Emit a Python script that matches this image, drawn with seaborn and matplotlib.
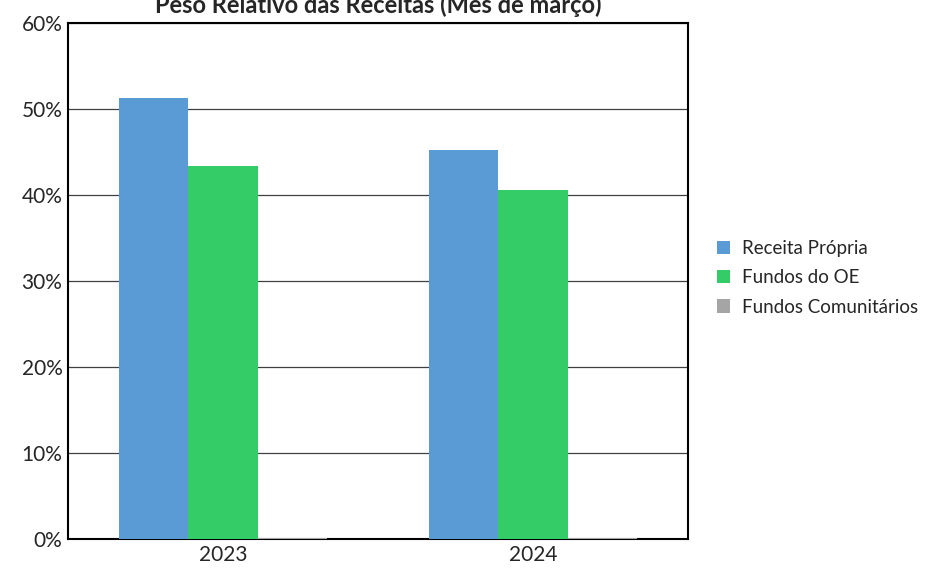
import pandas as pd
import numpy as np
import matplotlib.pyplot as plt
import seaborn as sns
from matplotlib.ticker import PercentFormatter

anos = ["2023", "2024"]
series = ["Receita Própria", "Fundos do OE", "Fundos Comunitários"]
receita_propria = [51.3, 45.2]
fundos_oe = [43.4, 40.6]
fundos_comunitarios = [0.15, 0.15]
cores = ["#5b9bd5", "#33cc66", "#a5a5a5"]

df = pd.DataFrame({
    "Ano": anos * 3,
    "Serie": [series[0]] * 2 + [series[1]] * 2 + [series[2]] * 2,
    "Valor": receita_propria + fundos_oe + fundos_comunitarios,
})

sns.set_style("white")
plt.rcParams["font.family"] = ["Lato", "DejaVu Sans"]

fig = plt.figure(figsize=(9.26, 5.8), dpi=100)
ax = fig.add_axes([68 / 926, 41 / 580, 620 / 926, 516 / 580])

sns.barplot(data=df, x="Ano", y="Valor", hue="Serie", palette=cores,
            width=0.67, saturation=1, linewidth=0, ax=ax, zorder=3)

ax.set_ylim(0, 60)
ax.set_yticks(np.arange(0, 61, 10))
ax.yaxis.set_major_formatter(PercentFormatter(decimals=0))
ax.grid(axis="y", color="#404040", linewidth=0.9, zorder=0)
ax.set_axisbelow(True)
ax.set_xlabel("")
ax.set_ylabel("")
ax.tick_params(axis="both", labelsize=15, length=0, pad=4)
for s in ax.spines.values():
    s.set_color("black")
    s.set_linewidth(1.5)

ax.set_title("Peso Relativo das Receitas (Mês de março)", fontsize=17,
             fontweight="bold", pad=7)

ax.legend(loc="center left", bbox_to_anchor=(1.02, 0.506), frameon=False,
          fontsize=13.5, handlelength=0.7, handleheight=0.7, handletextpad=0.6,
          labelspacing=0.65)

fig.savefig("out.png", dpi=100)
